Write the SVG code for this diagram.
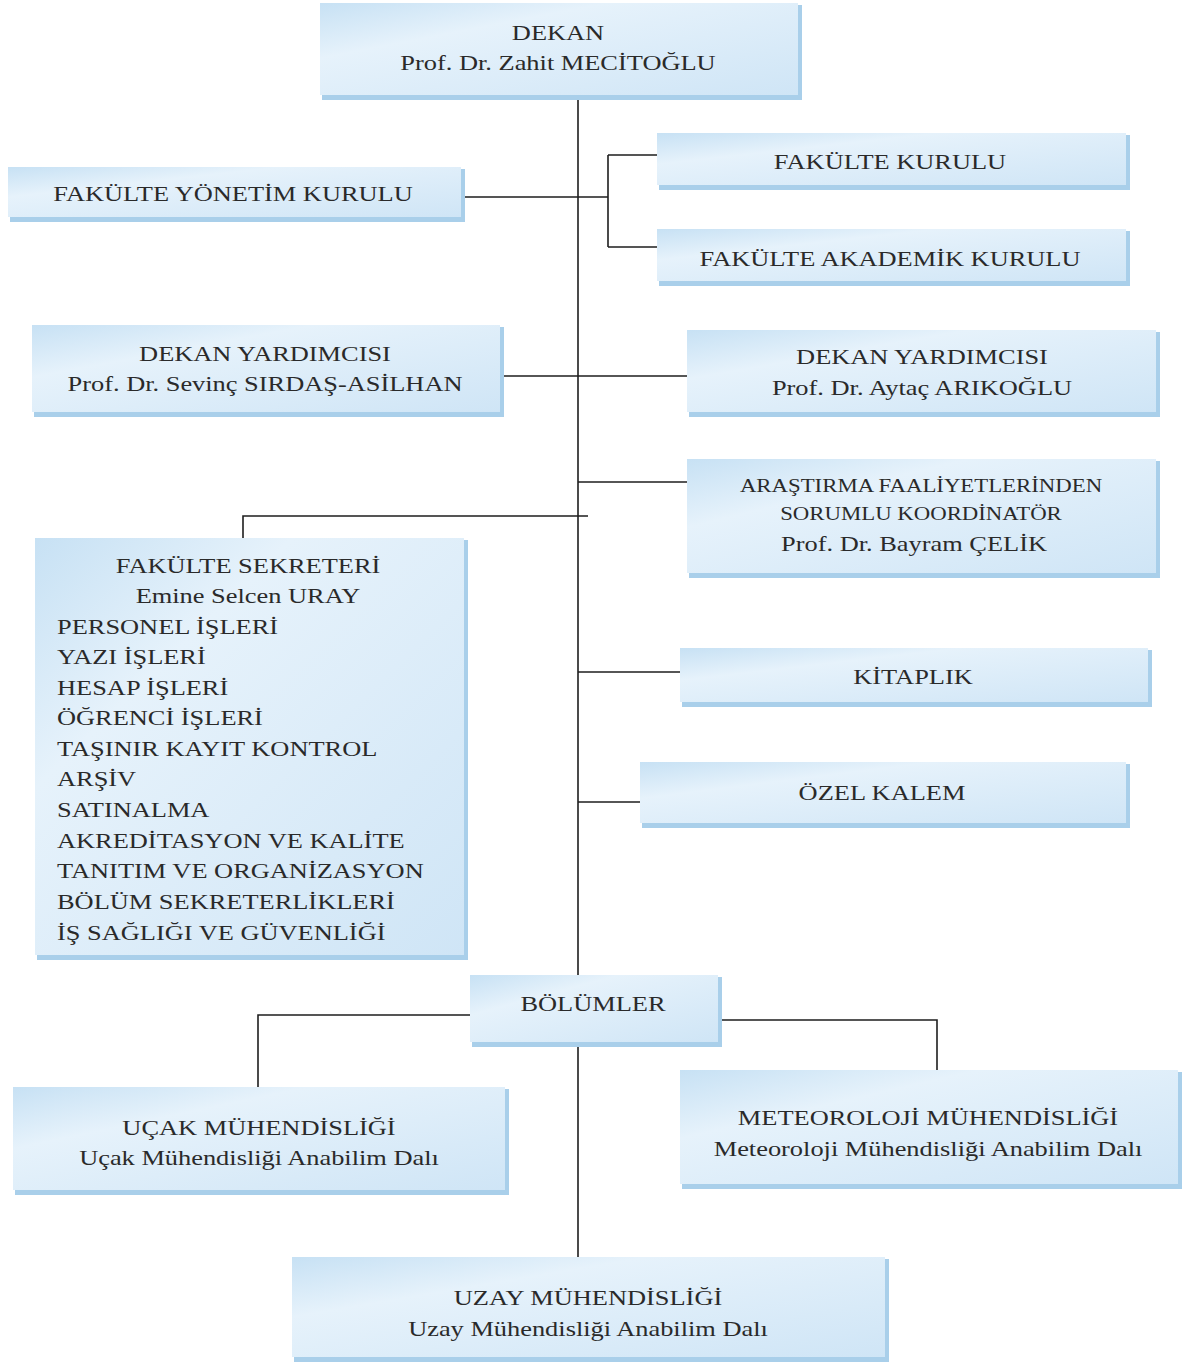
<svg xmlns="http://www.w3.org/2000/svg" width="1184" height="1363" viewBox="0 0 1184 1363">
<style>
.sh{fill:#a9cfea}
.bx{fill:url(#g)}
.t{font-family:"Liberation Serif","Times New Roman",serif;font-size:22px;fill:#2a2a2a;text-anchor:middle}
.l{text-anchor:start}
.s{font-size:19px}
.c{stroke:#1e1e1e;stroke-width:1.6;fill:none}
</style>
<defs>
<linearGradient id="g" x1="0" y1="0" x2="1" y2="1">
<stop offset="0" stop-color="#c7e1f4"/>
<stop offset="0.3" stop-color="#e6f2fb"/>
<stop offset="1" stop-color="#cfe5f6"/>
</linearGradient>
</defs>
<rect width="1184" height="1363" fill="#ffffff"/>
<g id="connectors">
<path class="c" d="M578 98V975M578 1045V1257"/>
<path class="c" d="M463 197H608M608 155V247M608 155H657M608 247H657"/>
<path class="c" d="M502 376H687"/>
<path class="c" d="M578 482H687"/>
<path class="c" d="M243 538V516H588"/>
<path class="c" d="M578 672H680"/>
<path class="c" d="M578 802H640"/>
<path class="c" d="M470 1015H258V1087"/>
<path class="c" d="M720 1020H937V1070"/>
</g>
<g id="dekan">
<rect class="sh" x="322" y="5" width="480" height="95"/>
<rect class="bx" x="320" y="3" width="478" height="92"/>
<g transform="translate(558 0) scale(1.2 1)"><text class="t" x="0" y="40">DEKAN</text><text class="t" x="0" y="70">Prof. Dr. Zahit MECİTOĞLU</text></g>
</g>
<g id="fyk">
<rect class="sh" x="10" y="169" width="455" height="53"/>
<rect class="bx" x="8" y="167" width="453" height="50"/>
<g transform="translate(233 0) scale(1.2 1)"><text class="t" x="0" y="201">FAKÜLTE YÖNETİM KURULU</text></g>
</g>
<g id="fk">
<rect class="sh" x="659" y="135" width="471" height="55"/>
<rect class="bx" x="657" y="133" width="469" height="52"/>
<g transform="translate(890 0) scale(1.2 1)"><text class="t" x="0" y="169">FAKÜLTE KURULU</text></g>
</g>
<g id="fak">
<rect class="sh" x="659" y="231" width="471" height="55"/>
<rect class="bx" x="657" y="229" width="469" height="52"/>
<g transform="translate(890 0) scale(1.2 1)"><text class="t" x="0" y="266">FAKÜLTE AKADEMİK KURULU</text></g>
</g>
<g id="dy1">
<rect class="sh" x="34" y="327" width="470" height="90"/>
<rect class="bx" x="32" y="325" width="468" height="87"/>
<g transform="translate(265 0) scale(1.2 1)"><text class="t" x="0" y="361">DEKAN YARDIMCISI</text><text class="t" x="0" y="391">Prof. Dr. Sevinç SIRDAŞ-ASİLHAN</text></g>
</g>
<g id="dy2">
<rect class="sh" x="689" y="332" width="471" height="85"/>
<rect class="bx" x="687" y="330" width="469" height="82"/>
<g transform="translate(922 0) scale(1.2 1)"><text class="t" x="0" y="364">DEKAN YARDIMCISI</text><text class="t" x="0" y="395">Prof. Dr. Aytaç ARIKOĞLU</text></g>
</g>
<g id="arastirma">
<rect class="sh" x="689" y="461" width="471" height="117"/>
<rect class="bx" x="687" y="459" width="469" height="114"/>
<g transform="translate(921 0) scale(1.2 1)"><text class="t s" x="0" y="492">ARAŞTIRMA FAALİYETLERİNDEN</text><text class="t s" x="0" y="520">SORUMLU KOORDİNATÖR</text></g>
<g transform="translate(914 0) scale(1.2 1)"><text class="t" x="0" y="551">Prof. Dr. Bayram ÇELİK</text></g>
</g>
<g id="sekreter">
<rect class="sh" x="37" y="540" width="431" height="420"/>
<rect class="bx" x="35" y="538" width="429" height="417"/>
<g transform="translate(248 0) scale(1.2 1)"><text class="t" x="0" y="573">FAKÜLTE SEKRETERİ</text><text class="t" x="0" y="603">Emine Selcen URAY</text></g>
<g transform="translate(57 0) scale(1.2 1)">
<text class="t l" x="0" y="634">PERSONEL İŞLERİ</text>
<text class="t l" x="0" y="664">YAZI İŞLERİ</text>
<text class="t l" x="0" y="695">HESAP İŞLERİ</text>
<text class="t l" x="0" y="725">ÖĞRENCİ İŞLERİ</text>
<text class="t l" x="0" y="756">TAŞINIR KAYIT KONTROL</text>
<text class="t l" x="0" y="786">ARŞİV</text>
<text class="t l" x="0" y="817">SATINALMA</text>
<text class="t l" x="0" y="848">AKREDİTASYON VE KALİTE</text>
<text class="t l" x="0" y="878">TANITIM VE ORGANİZASYON</text>
<text class="t l" x="0" y="909">BÖLÜM SEKRETERLİKLERİ</text>
<text class="t l" x="0" y="940">İŞ SAĞLIĞI VE GÜVENLİĞİ</text>
</g>
</g>
<g id="kitaplik">
<rect class="sh" x="682" y="650" width="470" height="57"/>
<rect class="bx" x="680" y="648" width="468" height="54"/>
<g transform="translate(913 0) scale(1.2 1)"><text class="t" x="0" y="684">KİTAPLIK</text></g>
</g>
<g id="ozelkalem">
<rect class="sh" x="642" y="764" width="488" height="64"/>
<rect class="bx" x="640" y="762" width="486" height="61"/>
<g transform="translate(882 0) scale(1.2 1)"><text class="t" x="0" y="800">ÖZEL KALEM</text></g>
</g>
<g id="bolumler">
<rect class="sh" x="472" y="977" width="250" height="70"/>
<rect class="bx" x="470" y="975" width="248" height="67"/>
<g transform="translate(593 0) scale(1.2 1)"><text class="t" x="0" y="1011">BÖLÜMLER</text></g>
</g>
<g id="ucak">
<rect class="sh" x="15" y="1089" width="494" height="106"/>
<rect class="bx" x="13" y="1087" width="492" height="103"/>
<g transform="translate(259 0) scale(1.2 1)"><text class="t" x="0" y="1135">UÇAK MÜHENDİSLİĞİ</text><text class="t" x="0" y="1165">Uçak Mühendisliği Anabilim Dalı</text></g>
</g>
<g id="meteoroloji">
<rect class="sh" x="682" y="1072" width="500" height="117"/>
<rect class="bx" x="680" y="1070" width="498" height="114"/>
<g transform="translate(928 0) scale(1.2 1)"><text class="t" x="0" y="1125">METEOROLOJİ MÜHENDİSLİĞİ</text><text class="t" x="0" y="1156">Meteoroloji Mühendisliği Anabilim Dalı</text></g>
</g>
<g id="uzay">
<rect class="sh" x="294" y="1259" width="595" height="103"/>
<rect class="bx" x="292" y="1257" width="593" height="100"/>
<g transform="translate(588 0) scale(1.2 1)"><text class="t" x="0" y="1305">UZAY MÜHENDİSLİĞİ</text><text class="t" x="0" y="1336">Uzay Mühendisliği Anabilim Dalı</text></g>
</g>
</svg>
